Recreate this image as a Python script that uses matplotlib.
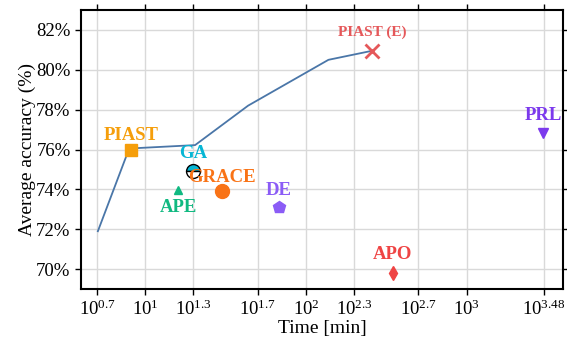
import numpy as np
import matplotlib
matplotlib.use("Agg")
import matplotlib.pyplot as plt

plt.rcParams['font.family'] = ['Liberation Serif', 'DejaVu Serif']
plt.rcParams['mathtext.fontset'] = 'custom'
plt.rcParams['mathtext.rm'] = 'Liberation Serif'
plt.rcParams['mathtext.it'] = 'Liberation Serif:italic'

# Curve (log10 time, accuracy)
curve_logt = [0.705, 0.90, 1.31, 1.64, 2.14, 2.41]
curve_acc = [71.9, 76.05, 76.22, 78.2, 80.5, 80.95]

# Methods
names = ["PIAST", "GA", "APE", "GRACE", "DE", "APO", "PRL", "PIAST (E)"]
logt = [0.91, 1.30, 1.205, 1.48, 1.83, 2.54, 3.475, 2.41]
acc = [75.95, 74.9, 73.95, 73.9, 73.1, 69.8, 76.85, 80.95]
colors = ["#f59e0b", "#06b6d4", "#10b981", "#f97316", "#8b5cf6", "#ef4444", "#7c3aed", "#e5585a"]
markers = ["s", "o", "^", "o", "p", "d", "v", "x"]
sizes = [9, 10, 6, 10, 9, 7, 7, 10]
label_offsets = [(0, 5), (0, 6.5), (0, -6), (0, 4), (0, 6), (0, 7), (0, 6), (0, 8.5)]
label_sizes = [13.5, 13.5, 13.5, 13.5, 13.5, 13.5, 13.5, 11]

xtick_exps = [0.7, 1, 1.3, 1.7, 2, 2.3, 2.7, 3, 3.48]
xtick_labels = ["0.7", "1", "1.3", "1.7", "2", "2.3", "2.7", "3", "3.48"]
ytick_vals = [70, 72, 74, 76, 78, 80, 82]

fig = plt.figure(figsize=(5.67, 3.41), dpi=100)
ax = fig.add_axes([81/567, 1-289/341, (563-81)/567, (289-10)/341])

ax.plot(10**np.array(curve_logt), curve_acc, color="#4a76a8", lw=1.3, zorder=2)

for n, lt, a, c, m, s, off, ls in zip(names, logt, acc, colors, markers, sizes, label_offsets, label_sizes):
    x = 10**lt
    if n == "GA":
        ax.plot([x], [a], marker="o", ms=s, mfc=c, mfcalt="white", fillstyle="top",
                mec="black", mew=1.0, ls="none", zorder=4)
    elif m == "x":
        ax.plot([x], [a], marker="x", ms=s, mec=c, mew=2, ls="none", zorder=4)
    else:
        ax.plot([x], [a], marker=m, ms=s, color=c, mec=c, ls="none", zorder=4)
    ax.annotate(n, (x, a), xytext=off, textcoords="offset points", ha="center",
                va="bottom" if off[1] > 0 else "top", color=c, fontsize=ls,
                fontweight="bold", zorder=5)

ax.set_xscale("log")
ax.set_xlim(10**0.6, 10**3.6)
ax.set_ylim(69, 83)
ax.set_xticks([10**e for e in xtick_exps])
ax.set_xticklabels([r"$\mathregular{10^{%s}}$" % l for l in xtick_labels])
ax.xaxis.set_minor_locator(matplotlib.ticker.NullLocator())
ax.set_yticks(ytick_vals)
ax.set_yticklabels(["%d%%" % v for v in ytick_vals])
ax.grid(True, color="#d9d9d9", lw=1.0, zorder=0)
ax.set_axisbelow(True)
ax.tick_params(which="both", direction="out", top=True, right=True, labeltop=False,
               labelright=False, labelsize=13.5, length=4, width=1)
for sp in ax.spines.values():
    sp.set_linewidth(1.5)
ax.set_xlabel("Time [min]", fontsize=14, labelpad=1)
ax.set_ylabel("Average accuracy (%)", fontsize=14, labelpad=0)

fig.savefig("out.png", dpi=100)
